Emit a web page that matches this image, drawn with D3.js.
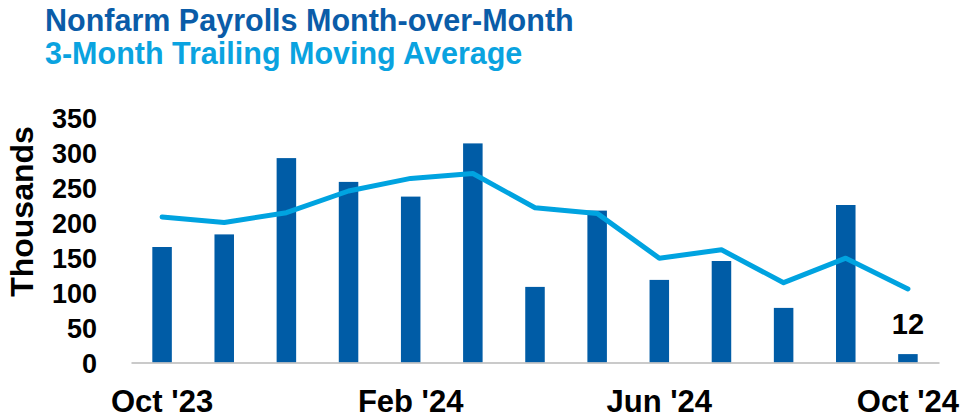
<!DOCTYPE html>
<html>
<head>
<meta charset="utf-8">
<script src="https://cdn.jsdelivr.net/npm/d3@7"></script>
<style>
	body { margin: 0; background: #fff; }
	text { font-family: "Liberation Sans", Arial, sans-serif; font-weight: bold; }
</style>
</head>
<body>
<div id="chart"></div>
<script>

var months   = ["Oct '23", "Nov '23", "Dec '23", "Jan '24", "Feb '24", "Mar '24", "Apr '24",
                "May '24", "Jun '24", "Jul '24", "Aug '24", "Sep '24", "Oct '24"];
var payrolls = [165, 183, 292, 258, 237, 313, 108, 217, 118, 145, 78, 225, 12];
var movAvg   = [208, 200, 214, 245, 263, 270, 221, 213, 149, 161, 114, 149, 105];
var xTicks   = ["Oct '23", "Feb '24", "Jun '24", "Oct '24"];
var yTicks   = [0, 50, 100, 150, 200, 250, 300, 350];

var width  = 962,
    height = 418,
    margin = { top: 117.5, right: 23, bottom: 55.5, left: 131 };

var barColor  = "#005ca6",
    lineColor = "#00a3e0";

var svg = d3.select("#chart")
	.append("svg")
	.attr("width", width)
	.attr("height", height);

var x = d3.scaleBand()
	.domain(months)
	.range([margin.left, width - margin.right])
	.paddingInner(0.686)
	.paddingOuter(0.343);

var y = d3.scaleLinear()
	.domain([0, 350])
	.range([height - margin.bottom, margin.top]);

// titles
svg.append("text")
	.attr("x", 45)
	.attr("y", 31)
	.attr("font-size", 30.5)
	.attr("fill", "#0a5ca8")
	.text("Nonfarm Payrolls Month-over-Month");

svg.append("text")
	.attr("x", 45)
	.attr("y", 64)
	.attr("font-size", 30.5)
	.attr("fill", "#0aa3e0")
	.text("3-Month Trailing Moving Average");

// y axis, labels only
var yAxis = svg.append("g")
	.attr("transform", "translate(" + (margin.left - 34) + ",0)")
	.call(d3.axisLeft(y).tickValues(yTicks).tickSize(0).tickPadding(0));

yAxis.select(".domain").remove();
yAxis.selectAll("text")
	.attr("font-size", 27)
	.attr("fill", "#000")
	.attr("font-family", null)
	.attr("dy", "0.36em");

svg.append("text")
	.attr("transform", "translate(33,211.5) rotate(-90)")
	.attr("text-anchor", "middle")
	.attr("font-size", 32)
	.attr("fill", "#000")
	.text("Thousands");

// bars
svg.append("g")
	.selectAll("rect")
	.data(payrolls)
	.enter()
	.append("rect")
	.attr("x", function(d, i) { return x(months[i]); })
	.attr("y", function(d) { return y(d); })
	.attr("width", x.bandwidth())
	.attr("height", function(d) { return y(0) - y(d); })
	.attr("fill", barColor);

// baseline + x labels
var xAxis = svg.append("g")
	.attr("transform", "translate(0," + y(0) + ")")
	.call(d3.axisBottom(x).tickValues(xTicks).tickSize(0).tickPadding(0).tickSizeOuter(0));

xAxis.select(".domain")
	.attr("stroke", "#b8b8b8")
	.attr("stroke-width", 1.5);
xAxis.selectAll("text")
	.attr("font-size", 31)
	.attr("fill", "#000")
	.attr("font-family", null)
	.attr("dy", null)
	.attr("y", 49);

// moving average line
var line = d3.line()
	.x(function(d, i) { return x(months[i]) + x.bandwidth() / 2; })
	.y(function(d) { return y(d); });

svg.append("path")
	.datum(movAvg)
	.attr("d", line)
	.attr("fill", "none")
	.attr("stroke", lineColor)
	.attr("stroke-width", 5)
	.attr("stroke-linecap", "round")
	.attr("stroke-linejoin", "round");

// label on the last bar
var last = payrolls.length - 1;
svg.append("text")
	.attr("x", x(months[last]) + x.bandwidth() / 2)
	.attr("y", y(payrolls[last]) - 20)
	.attr("text-anchor", "middle")
	.attr("font-size", 29)
	.attr("fill", "#000")
	.text(payrolls[last]);

</script>
</body>
</html>
